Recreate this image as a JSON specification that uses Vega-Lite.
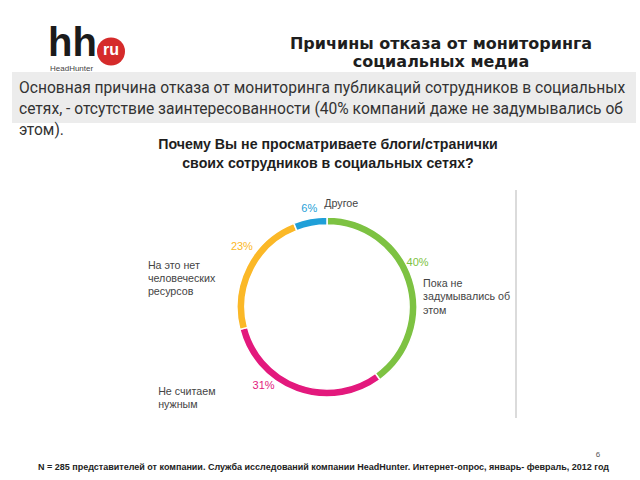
{
  "$schema": "https://vega.github.io/schema/vega-lite/v6.json",
  "width": 380,
  "height": 300,
  "autosize": "none",
  "padding": {"left": 137, "top": 157, "right": 123, "bottom": 23},
  "background": "white",
  "config": {"view": {"stroke": null}, "font": "Liberation Sans"},
  "data": {"values": [
    {"reason": "Пока не\nзадумывались об\nэтом", "pct": 0.40},
    {"reason": "Не считаем\nнужным", "pct": 0.31},
    {"reason": "На это нет\nчеловеческих\nресурсов", "pct": 0.23},
    {"reason": "Другое", "pct": 0.06}
  ]},
  "layer": [
    {
      "data": {"values": [{"t": ""}]},
      "mark": {"type": "rect", "color": "#ececec"},
      "encoding": {"x": {"value": -125}, "x2": {"value": 499}, "y": {"value": -85}, "y2": {"value": -34}}
    },
    {
      "data": {"values": [{"t": "hh"}]},
      "mark": {"type": "text", "x": -89, "y": -101, "align": "left", "baseline": "alphabetic", "font": "Liberation Sans", "fontWeight": "bold", "fontSize": 40, "color": "#1b1b1b"},
      "encoding": {"text": {"field": "t"}}
    },
    {
      "data": {"values": [{"t": "ru"}]},
      "mark": {"type": "point", "shape": "circle", "filled": true, "x": -26, "y": -105.5, "size": 784, "color": "#d52b2b", "opacity": 1},
      "encoding": {}
    },
    {
      "data": {"values": [{"t": "ru"}]},
      "mark": {"type": "text", "x": -26, "y": -107, "align": "center", "baseline": "middle", "fontWeight": "bold", "fontSize": 16, "color": "white"},
      "encoding": {"text": {"field": "t"}}
    },
    {
      "data": {"values": [{"t": "HeadHunter"}]},
      "mark": {"type": "text", "x": -87, "y": -88, "align": "left", "baseline": "middle", "fontSize": 8, "color": "#444"},
      "encoding": {"text": {"field": "t"}}
    },
    {
      "data": {"values": [{"t": "Причины отказа от мониторинга\nсоциальных медиа"}]},
      "mark": {"type": "text", "x": 304, "y": -121, "align": "center", "baseline": "top", "lineBreak": "\n", "lineHeight": 18, "font": "DejaVu Sans", "fontWeight": "bold", "fontSize": 16, "color": "#1e1e1e"},
      "encoding": {"text": {"field": "t"}}
    },
    {
      "data": {"values": [{"t": "Основная причина отказа от мониторинга публикаций сотрудников в социальных\nсетях, - отсутствие заинтересованности (40% компаний даже не задумывались об\nэтом)."}]},
      "mark": {"type": "text", "x": -118, "y": -76, "align": "left", "baseline": "top", "lineBreak": "\n", "lineHeight": 21, "font": "Roboto", "fontSize": 15.6, "color": "#333"},
      "encoding": {"text": {"field": "t"}}
    },
    {
      "data": {"values": [{"t": "Почему Вы не просматриваете блоги/странички\nсвоих сотрудников в социальных сетях?"}]},
      "mark": {"type": "text", "x": 191, "y": -19, "align": "center", "baseline": "top", "lineBreak": "\n", "lineHeight": 19, "font": "Liberation Sans", "fontWeight": "bold", "fontSize": 14.2, "color": "#1e1e1e"},
      "encoding": {"text": {"field": "t"}}
    },
    {
      "data": {"values": [{"t": ""}]},
      "mark": {"type": "rule", "color": "#cfcfcf", "strokeWidth": 1.5},
      "encoding": {"x": {"value": 379}, "y": {"value": 33}, "y2": {"value": 261}}
    },
    {
      "mark": {"type": "arc", "outerRadius": 90, "innerRadius": 82, "stroke": "white", "strokeWidth": 1.5},
      "encoding": {
        "theta": {"field": "pct", "type": "quantitative", "stack": true},
        "order": {"field": "pct", "sort": "descending"},
        "color": {"field": "reason", "type": "nominal", "legend": null,
          "scale": {"domain": ["Пока не\nзадумывались об\nэтом", "Не считаем\nнужным", "На это нет\nчеловеческих\nресурсов", "Другое"],
                    "range": ["#7dc242", "#e3197d", "#fbb827", "#1f9fd8"]}}
      }
    },
    {
      "mark": {"type": "text", "radius": 100, "dx": -4.5, "dy": -13.5, "fontSize": 11, "align": "center", "baseline": "middle"},
      "encoding": {
        "theta": {"field": "pct", "type": "quantitative", "stack": true},
        "order": {"field": "pct", "sort": "descending"},
        "color": {"field": "reason", "type": "nominal", "legend": null},
        "text": {"condition": {"test": "datum.pct == 0.4", "field": "pct", "format": ".0%"}, "value": ""}
      }
    },
    {
      "mark": {"type": "text", "radius": 100, "dx": -29.5, "dy": -15, "fontSize": 11, "align": "center", "baseline": "middle"},
      "encoding": {
        "theta": {"field": "pct", "type": "quantitative", "stack": true},
        "order": {"field": "pct", "sort": "descending"},
        "color": {"field": "reason", "type": "nominal", "legend": null},
        "text": {"condition": {"test": "datum.pct == 0.31", "field": "pct", "format": ".0%"}, "value": ""}
      }
    },
    {
      "mark": {"type": "text", "radius": 100, "dx": 4, "dy": -15, "fontSize": 11, "align": "center", "baseline": "middle"},
      "encoding": {
        "theta": {"field": "pct", "type": "quantitative", "stack": true},
        "order": {"field": "pct", "sort": "descending"},
        "color": {"field": "reason", "type": "nominal", "legend": null},
        "text": {"condition": {"test": "datum.pct == 0.23", "field": "pct", "format": ".0%"}, "value": ""}
      }
    },
    {
      "mark": {"type": "text", "radius": 100, "dx": 1, "dy": 0, "fontSize": 11, "align": "center", "baseline": "middle"},
      "encoding": {
        "theta": {"field": "pct", "type": "quantitative", "stack": true},
        "order": {"field": "pct", "sort": "descending"},
        "color": {"field": "reason", "type": "nominal", "legend": null},
        "text": {"condition": {"test": "datum.pct == 0.06", "field": "pct", "format": ".0%"}, "value": ""}
      }
    },
    {
      "mark": {"type": "text", "radius": 100, "dx": 1, "dy": 3, "fontSize": 10.7, "align": "left", "baseline": "top", "lineBreak": "\n", "lineHeight": 13.3, "color": "#444"},
      "encoding": {
        "theta": {"field": "pct", "type": "quantitative", "stack": true},
        "order": {"field": "pct", "sort": "descending"},
        "text": {"condition": {"test": "datum.pct == 0.4", "field": "reason"}, "value": ""}
      }
    },
    {
      "mark": {"type": "text", "radius": 100, "dx": -135, "dy": -14.5, "fontSize": 10.7, "align": "left", "baseline": "top", "lineBreak": "\n", "lineHeight": 13.3, "color": "#444"},
      "encoding": {
        "theta": {"field": "pct", "type": "quantitative", "stack": true},
        "order": {"field": "pct", "sort": "descending"},
        "text": {"condition": {"test": "datum.pct == 0.31", "field": "reason"}, "value": ""}
      }
    },
    {
      "mark": {"type": "text", "radius": 100, "dx": -90, "dy": -1, "fontSize": 10.7, "align": "left", "baseline": "top", "lineBreak": "\n", "lineHeight": 13.3, "color": "#444"},
      "encoding": {
        "theta": {"field": "pct", "type": "quantitative", "stack": true},
        "order": {"field": "pct", "sort": "descending"},
        "text": {"condition": {"test": "datum.pct == 0.23", "field": "reason"}, "value": ""}
      }
    },
    {
      "mark": {"type": "text", "radius": 100, "dx": 16, "dy": -5, "fontSize": 10.7, "align": "left", "baseline": "middle", "color": "#444"},
      "encoding": {
        "theta": {"field": "pct", "type": "quantitative", "stack": true},
        "order": {"field": "pct", "sort": "descending"},
        "text": {"condition": {"test": "datum.pct == 0.06", "field": "reason"}, "value": ""}
      }
    },
    {
      "data": {"values": [{"t": "N = 285 представителей от компании. Служба исследований компании HeadHunter. Интернет-опрос, январь- февраль, 2012 год"}]},
      "mark": {"type": "text", "x": -99, "y": 310, "align": "left", "baseline": "middle", "fontWeight": "bold", "fontSize": 9, "color": "#222"},
      "encoding": {"text": {"field": "t"}}
    },
    {
      "data": {"values": [{"t": "6"}]},
      "mark": {"type": "text", "x": 461, "y": 298, "align": "center", "baseline": "middle", "fontSize": 8, "color": "#555"},
      "encoding": {"text": {"field": "t"}}
    }
  ]
}
